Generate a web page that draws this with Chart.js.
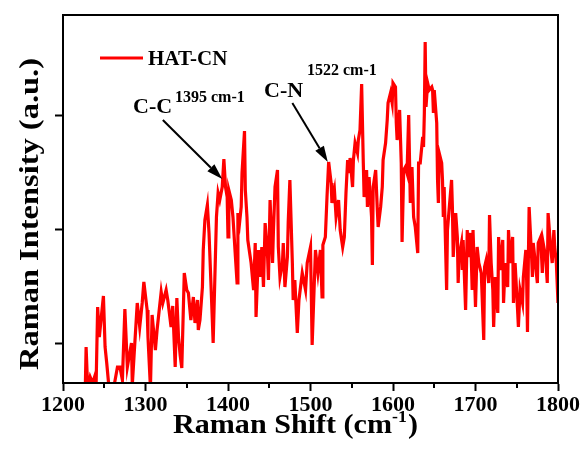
<!DOCTYPE html>
<html>
<head>
<meta charset="utf-8">
<script src="https://cdn.jsdelivr.net/npm/chart.js@4.4.1/dist/chart.umd.min.js"></script>
<style>
  html, body { margin: 0; padding: 0; background: #fff; }
</style>
</head>
<body>
<canvas id="raman" width="585" height="459"></canvas>
<script>
// ===== DADOS =====
const seriesName = 'HAT-CN';

const ramanShift = [
  1227,1228,1230,1233,1236,1239,1240,1242,1244,1249,
  1251,1253,1256,1261,1266,1269,1272,1275,1278,1283,
  1284,1290,1293,1296,1298,1302,1303,1306,1308,1312,
  1314,1319,1321,1325,1327,1331,1333,1336,1338,1340,
  1342,1344,1347,1350,1352,1355,1358,1360,1363,1364,
  1366,1369,1370,1372,1375,1377,1381,1382,1384,1386,
  1388,1390,1393,1395,1397,1399,1400,1401,1404,1406,
  1409,1411,1412,1414,1416,1417,1420,1421,1423,1424,
  1428,1431,1433,1434,1437,1439,1441,1443,1445,1448,
  1449,1451,1454,1455,1457,1460,1461,1463,1466,1467,
  1469,1472,1473,1475,1478,1479,1481,1484,1486,1490,
  1494,1496,1500,1502,1506,1509,1512,1514,1515,1518,
  1520,1522,1525,1526,1529,1531,1534,1536,1539,1541,
  1543,1545,1547,1548,1551,1552,1554,1557,1558,1560,
  1562,1564,1565,1568,1569,1571,1574,1575,1576,1579,
  1581,1582,1585,1587,1588,1591,1593,1594,1597,1599,
  1600,1603,1604,1605,1608,1610,1611,1613,1615,1617,
  1619,1621,1623,1625,1627,1630,1631,1633,1636,1637,
  1638,1639,1640,1642,1644,1647,1648,1649,1650,1653,
  1654,1655,1656,1659,1660,1661,1662,1665,1666,1668,
  1671,1672,1673,1676,1678,1679,1680,1683,1684,1685,
  1688,1690,1691,1694,1696,1697,1700,1702,1704,1707,
  1710,1711,1713,1716,1717,1719,1721,1722,1724,1727,
  1728,1730,1733,1734,1736,1739,1740,1742,1745,1746,
  1748,1751,1752,1754,1757,1758,1761,1762,1763,1764,
  1765,1768,1769,1770,1773,1775,1776,1779,1781,1782,
  1785,1787,1788,1791,1793,1795,1796,1798,1800
];

const intensity = [
  -7,36,-7,6,0,8,-7,76,46,87,
  36,20,-7,-7,16,16,3,74,16,40,
  -2,80,56,80,101,73,46,-5,68,33,
  53,91,80,93,83,56,77,16,85,46,
  28,15,110,93,90,63,86,60,83,53,
  63,96,133,163,178,150,63,40,103,166,
  190,183,196,224,196,186,146,193,183,166,
  126,100,170,160,176,210,252,193,166,143,
  120,93,140,66,133,106,136,96,160,126,
  103,183,120,150,196,213,136,106,120,140,
  96,126,161,203,120,83,103,50,83,110,
  93,120,136,38,133,110,133,86,138,146,
  186,221,200,180,193,166,183,153,136,146,
  190,223,210,225,196,223,240,230,243,253,
  299,220,186,213,176,206,166,118,196,213,
  173,156,176,196,223,240,263,280,290,280,
  300,296,260,243,273,220,141,213,216,210,
  268,180,216,166,156,130,220,220,246,236,
  270,341,276,300,293,296,293,270,293,260,
  203,180,230,220,203,166,196,93,153,173,
  203,176,126,170,146,100,126,140,113,143,
  73,153,126,150,93,153,76,136,120,110,
  43,116,123,100,168,120,93,56,106,70,
  146,113,143,80,120,96,153,120,146,80,
  120,73,56,93,80,106,133,103,51,120,
  176,126,106,140,116,100,140,146,110,140,
  126,100,170,136,120,153,136,120,80
];

const xMin = 1200, xMax = 1800, xStep = 100;
const xMinorTicks = [1250, 1350, 1450, 1550, 1650, 1750];
const yMin = 0, yMax = 368;
const yTicks = [40, 154, 268];

// anotações: seta (cauda -> ponta) em unidades dos dados
const peaks = [
  { bond: 'C-C', label: '1395 cm-1', tail: [1321, 263], tip: [1393, 204], bondAt: [133, 113], numAt: [175, 102] },
  { bond: 'C-N', label: '1522 cm-1', tail: [1478, 280], tip: [1521, 221], bondAt: [264, 97], numAt: [307, 75] }
];

const SERIF = '"Liberation Serif", "Times New Roman", serif';

// ===== PLUGIN: moldura, ticks menores, legenda, setas, títulos =====
const decor = {
  id: 'decor',
  afterDraw(chart) {
    const { ctx, chartArea: a, scales: { x, y } } = chart;
    ctx.save();

    // moldura
    ctx.strokeStyle = '#000';
    ctx.lineWidth = 2;
    ctx.strokeRect(a.left, a.top, a.right - a.left, a.bottom - a.top);

    // ticks menores
    xMinorTicks.forEach(v => {
      const px = Math.round(x.getPixelForValue(v));
      ctx.beginPath();
      ctx.moveTo(px, a.bottom);
      ctx.lineTo(px, a.bottom + 5);
      ctx.stroke();
    });

    // legenda
    ctx.strokeStyle = '#ff0000';
    ctx.lineWidth = 3;
    ctx.beginPath();
    ctx.moveTo(100, 58);
    ctx.lineTo(143, 58);
    ctx.stroke();
    ctx.fillStyle = '#000';
    ctx.font = 'bold 21px ' + SERIF;
    ctx.textBaseline = 'alphabetic';
    ctx.fillText(seriesName, 148, 65);

    // setas
    peaks.forEach(p => {
      const x0 = x.getPixelForValue(p.tail[0]), y0 = y.getPixelForValue(p.tail[1]);
      const x1 = x.getPixelForValue(p.tip[0]), y1 = y.getPixelForValue(p.tip[1]);
      const ang = Math.atan2(y1 - y0, x1 - x0);
      const head = 16, half = 5;
      const bx = x1 - head * Math.cos(ang), by = y1 - head * Math.sin(ang);
      ctx.strokeStyle = '#000';
      ctx.fillStyle = '#000';
      ctx.lineWidth = 2;
      ctx.beginPath();
      ctx.moveTo(x0, y0);
      ctx.lineTo(bx, by);
      ctx.stroke();
      ctx.beginPath();
      ctx.moveTo(x1, y1);
      ctx.lineTo(bx + half * Math.sin(ang), by - half * Math.cos(ang));
      ctx.lineTo(bx - half * Math.sin(ang), by + half * Math.cos(ang));
      ctx.closePath();
      ctx.fill();

      ctx.font = 'bold 22px ' + SERIF;
      ctx.fillText(p.bond, p.bondAt[0], p.bondAt[1]);
      ctx.font = 'bold 16px ' + SERIF;
      ctx.fillText(p.label, p.numAt[0], p.numAt[1]);
    });

    // título eixo X com sobrescrito
    const big = 'bold 27px ' + SERIF, small = 'bold 16px ' + SERIF;
    ctx.font = big;
    const w1 = ctx.measureText('Raman Shift (cm').width;
    const w3 = ctx.measureText(')').width;
    ctx.font = small;
    const w2 = ctx.measureText('-1').width;
    const sx = 245 / (w1 + w2 + w3 + 1);
    ctx.save();
    ctx.translate(173, 433);
    ctx.scale(sx, 1);
    ctx.font = big;
    ctx.fillText('Raman Shift (cm', 0, 0);
    ctx.font = small;
    ctx.fillText('-1', w1, -11);
    ctx.font = big;
    ctx.fillText(')', w1 + w2 + 1, 0);
    ctx.restore();

    // título eixo Y
    ctx.font = big;
    const yt = 'Raman Intensity (a.u.)';
    const wy = ctx.measureText(yt).width;
    ctx.save();
    ctx.translate(38, 370);
    ctx.rotate(-Math.PI / 2);
    ctx.scale(312 / wy, 1);
    ctx.fillText(yt, 0, 0);
    ctx.restore();

    ctx.restore();
  }
};

// ===== GRÁFICO =====
const ctx = document.getElementById('raman').getContext('2d');
const chart = new Chart(ctx, {
  type: 'line',
  data: {
    datasets: [{
      label: seriesName,
      data: ramanShift.map((s, i) => ({ x: s, y: intensity[i] })),
      borderColor: '#ff0000',
      borderWidth: 3.2,
      pointRadius: 0,
      tension: 0,
      fill: false
    }]
  },
  options: {
    responsive: false,
    animation: false,
    devicePixelRatio: 1,
    layout: { padding: { left: 0, top: 15, right: 27, bottom: 0 } },
    plugins: { legend: { display: false }, tooltip: { enabled: false } },
    scales: {
      x: {
        type: 'linear',
        min: xMin,
        max: xMax,
        ticks: {
          stepSize: xStep,
          color: '#000',
          padding: 1,
          font: { family: SERIF, size: 22, weight: 'bold' },
          callback: v => v
        },
        grid: { drawOnChartArea: false, drawTicks: true, tickLength: 8, tickWidth: 2, tickColor: '#000' },
        border: { display: true, color: '#000', width: 2 },
        afterFit: s => { s.height = 76; }
      },
      y: {
        min: yMin,
        max: yMax,
        afterBuildTicks: s => { s.ticks = yTicks.map(v => ({ value: v })); },
        ticks: { display: false },
        grid: { drawOnChartArea: false, drawTicks: true, tickLength: 8, tickWidth: 2, tickColor: '#000' },
        border: { display: true, color: '#000', width: 2 },
        afterFit: s => { s.width = 63; }
      }
    }
  },
  plugins: [decor]
});
</script>
</body>
</html>
